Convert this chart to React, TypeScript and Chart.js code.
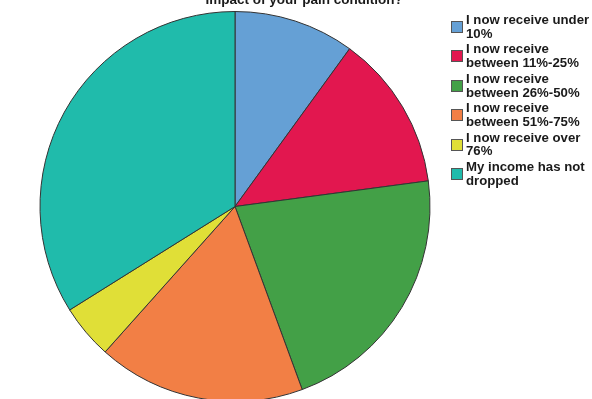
import React, { useEffect, useRef } from "react";
import { Chart, registerables } from "chart.js";

Chart.register(...registerables);

const titleText = "Impact of your pain condition?";
const categories = [
  "I now receive under 10%",
  "I now receive between 11%-25%",
  "I now receive between 26%-50%",
  "I now receive between 51%-75%",
  "I now receive over 76%",
  "My income has not dropped",
];
const legendLines = [
  ["I now receive under", "10%"],
  ["I now receive", "between 11%-25%"],
  ["I now receive", "between 26%-50%"],
  ["I now receive", "between 51%-75%"],
  ["I now receive over", "76%"],
  ["My income has not", "dropped"],
];
const percentValues = [10.0, 12.9, 21.5, 17.2, 4.5, 33.9];
const sliceColors = ["#65a0d5", "#e2174f", "#43a047", "#f27f45", "#e0df37", "#20bbab"];

const FONT = '"Liberation Sans", Arial, sans-serif';

const overlayPlugin = {
  id: "overlay",
  afterDraw(chart: any) {
    const ctx = chart.ctx as CanvasRenderingContext2D;
    ctx.save();
    // title
    ctx.fillStyle = "#1a1a1a";
    ctx.font = `bold 13.5px ${FONT}`;
    ctx.textAlign = "center";
    ctx.textBaseline = "alphabetic";
    ctx.fillText(titleText, 304, 4);
    // legend
    ctx.textAlign = "left";
    ctx.font = `bold 13.2px ${FONT}`;
    const bx = 451;
    const base0 = 24;
    const step = 29.4;
    legendLines.forEach((lines, i) => {
      const base = base0 + i * step;
      const by = Math.round(base - 3);
      ctx.fillStyle = sliceColors[i];
      ctx.fillRect(bx, by, 12, 12);
      ctx.strokeStyle = "#555";
      ctx.lineWidth = 1;
      ctx.strokeRect(bx + 0.5, by + 0.5, 11, 11);
      ctx.fillStyle = "#1a1a1a";
      lines.forEach((ln, j) => {
        ctx.fillText(ln, 466, Math.round(base + j * 13.7));
      });
    });
    ctx.restore();
  },
};

export default function App() {
  const ref = useRef<HTMLCanvasElement | null>(null);
  useEffect(() => {
    if (!ref.current) return;
    const chart = new Chart(ref.current, {
      type: "pie",
      data: {
        labels: categories,
        datasets: [
          {
            data: percentValues,
            backgroundColor: sliceColors,
            borderColor: "#333333",
            borderWidth: 1,
          },
        ],
      },
      options: {
        responsive: false,
        animation: false,
        devicePixelRatio: 1,
        layout: { padding: { top: 11, left: 39, right: 161, bottom: 28 } },
        plugins: {
          legend: { display: false },
          title: { display: false },
          tooltip: { enabled: false },
        },
      },
      plugins: [overlayPlugin],
    });
    return () => chart.destroy();
  }, []);
  return (
    <div
      style={{
        position: "fixed",
        left: 0,
        top: 0,
        width: 592,
        height: 399,
        overflow: "hidden",
        background: "#ffffff",
      }}
    >
      <canvas ref={ref} width={592} height={430} style={{ display: "block" }} />
    </div>
  );
}
